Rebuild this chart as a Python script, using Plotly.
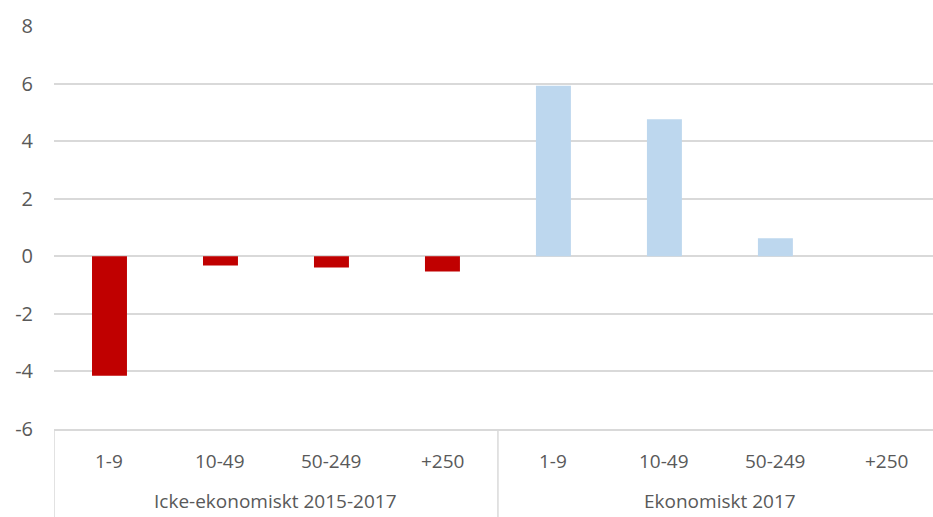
import plotly.graph_objects as go

groups = ["Icke-ekonomiskt 2015-2017", "Ekonomiskt 2017"]
sizes = ["1-9", "10-49", "50-249", "+250"]
icke_values = [-4.15, -0.32, -0.39, -0.53]
ekon_values = [5.92, 4.76, 0.63, 0.0]
y_ticks = [-6, -4, -2, 0, 2, 4, 6, 8]
y_ticktext = ["-6", "-4", "-2", "0", "2", "4", "6", "8"]

red = "#C00000"
blue = "#BDD7EE"
grid = "#D9D9D9"
txt = "#595959"
fnt = "Open Sans"

n = len(sizes)
x_icke = list(range(n))
x_ekon = list(range(n, 2 * n))

fig = go.Figure()
fig.add_trace(go.Bar(
    x=x_icke, y=icke_values,
    marker=dict(color=red, line=dict(width=0)), width=0.315,
    name=groups[0], showlegend=False,
))
fig.add_trace(go.Bar(
    x=x_ekon, y=ekon_values,
    marker=dict(color=blue, line=dict(width=0)), width=0.315,
    name=groups[1], showlegend=False,
))

H = 517
t, b = 26, 88
ph = H - t - b

def py(pix_from_top):
    return (H - b - pix_from_top) / ph

annotations = []
for gi, g in enumerate(groups):
    for si, s in enumerate(sizes):
        annotations.append(dict(
            x=gi * n + si, y=py(461), xref="x", yref="paper",
            text=s, showarrow=False, xanchor="center", yanchor="middle",
            font=dict(family=fnt, size=19, color=txt),
        ))
    annotations.append(dict(
        x=gi * n + (n - 1) / 2, y=py(H - 1), xref="x", yref="paper",
        text=g, showarrow=False, xanchor="center", yanchor="bottom",
        font=dict(family=fnt, size=19, color=txt),
    ))

shapes = []
for gi in range(len(groups)):
    xd = gi * n - 0.5
    shapes.append(dict(
        type="line", xref="x", yref="paper",
        x0=xd, x1=xd, y0=0, y1=py(H + 5),
        line=dict(color=grid, width=1.5),
    ))

fig.update_layout(
    width=933, height=517,
    margin=dict(l=54, r=0, t=t, b=b, autoexpand=False),
    paper_bgcolor="white", plot_bgcolor="white",
    barmode="relative",
    font=dict(family=fnt, size=19, color=txt),
    annotations=annotations,
    shapes=shapes,
    xaxis=dict(
        range=[-0.5, 7.42],
        showgrid=False, showticklabels=False, ticks="",
        showline=True, linecolor=grid, linewidth=1.5,
        zeroline=False, automargin=False,
    ),
    yaxis=dict(
        range=[-6, 8], tickvals=y_ticks, ticktext=y_ticktext,
        showgrid=True, gridcolor=grid, gridwidth=1.5,
        zeroline=True, zerolinecolor=grid, zerolinewidth=1.5,
        showline=False, ticks="", automargin=False,
        tickfont=dict(family=fnt, size=20, color=txt),
        ticklabelstandoff=20,
    ),
)

fig.write_html(
    "out.html",
    config={"displayModeBar": False},
    post_script="document.body.style.margin='0';document.body.style.overflow='hidden';",
)
